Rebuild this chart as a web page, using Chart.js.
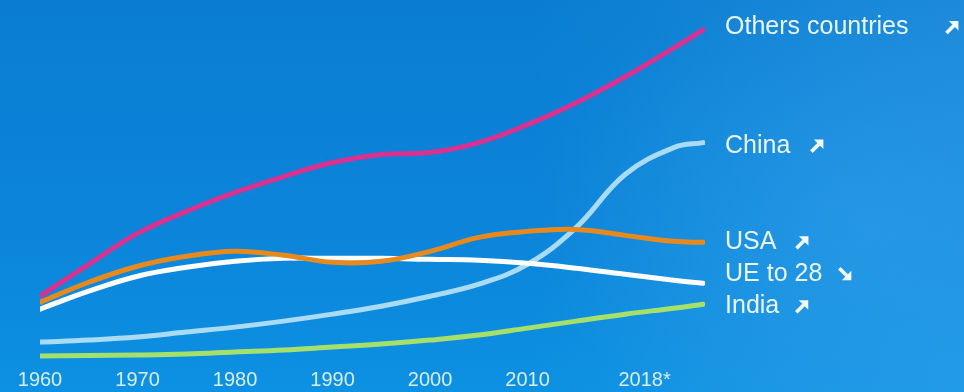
<!DOCTYPE html>
<html>
<head>
<meta charset="utf-8">
<script src="https://cdn.jsdelivr.net/npm/chart.js@4/dist/chart.umd.min.js"></script>
<style>
  html, body { margin: 0; padding: 0; }
  body {
    width: 964px; height: 392px; overflow: hidden;
    background:
      radial-gradient(ellipse 320px 260px at 860px 230px, rgba(60,170,240,0.35), rgba(60,170,240,0) 100%),
      linear-gradient(to right, rgba(255,255,255,0) 0%, rgba(255,255,255,0) 55%, rgba(90,180,240,0.22) 100%),
      linear-gradient(to bottom, #0a7dd2 0%, #0b85da 60%, #0d91e2 100%);
  }
  #wrap { position: relative; width: 964px; height: 392px; }
</style>
</head>
<body>
<div id="wrap"><canvas id="c" width="964" height="392"></canvas></div>
<script>
// Sample years along the horizontal axis
const years = [1960, 1965, 1970, 1975, 1980, 1985, 1990, 1995, 2000, 2005, 2010, 2015, 2020, 2025, 2028];

// Axis tick positions and their labels
const tickValues = [1960, 1970, 1980, 1990, 2000, 2010, 2022];
const tickLabels = ['1960', '1970', '1980', '1990', '2000', '2010', '2018*'];

// Series values
const othersCountries = [7.1, 10.3, 13.4, 15.6, 17.5, 19.1, 20.5, 21.3, 21.5, 22.5, 24.3, 26.5, 29.1, 32.0, 33.8];
const usa             = [6.5, 8.5, 10.1, 11.1, 11.6, 11.2, 10.5, 10.6, 11.6, 13.0, 13.6, 13.8, 13.2, 12.6, 12.5];
const ue28            = [5.8, 7.6, 9.1, 10.0, 10.6, 10.9, 10.9, 10.9, 10.8, 10.7, 10.4, 9.9, 9.3, 8.7, 8.4];
const china           = [2.5, 2.7, 3.0, 3.5, 4.0, 4.6, 5.3, 6.1, 7.1, 8.3, 10.3, 14.0, 19.3, 22.0, 22.5];
const india           = [1.1, 1.15, 1.2, 1.3, 1.5, 1.7, 2.0, 2.3, 2.7, 3.2, 3.9, 4.6, 5.3, 5.9, 6.3];

// Series names and trend direction shown at the end of each line (1 = up, -1 = down)
const seriesNames  = ['Others countries', 'USA', 'UE to 28', 'China', 'India'];
const seriesTrends = [1, 1, -1, 1, 1];
const seriesColors = ['#d8318f', '#e8891e', '#ffffff', '#a9dcf4', '#a5e06a'];
const seriesValues = [othersCountries, usa, ue28, china, india];

// End-of-line label styling
const labelStyle = {
  dy:       [-3, 0, -9, 3, 2],
  arrowGap: [37, 19, 16, 20, 16]
};

const pts = v => v.map((y, i) => ({ x: years[i], y }));

// Bold diagonal trend arrow, x = left edge, y = vertical centre
function trendArrow(ctx, x, y, dir) {
  const s = dir;                 // flips the arrow vertically for a downward trend
  ctx.save();
  ctx.fillStyle = '#f2faf7';
  ctx.strokeStyle = '#f2faf7';
  ctx.lineWidth = 3.6;
  ctx.lineCap = 'butt';
  ctx.beginPath();
  ctx.moveTo(x + 1, y + 6 * s);
  ctx.lineTo(x + 9, y - 2 * s);
  ctx.stroke();
  ctx.beginPath();
  ctx.moveTo(x + 13, y - 6 * s);
  ctx.lineTo(x + 3.5, y - 6 * s);
  ctx.lineTo(x + 13, y + 3.5 * s);
  ctx.closePath();
  ctx.fill();
  ctx.restore();
}

const endLabels = {
  id: 'endLabels',
  afterDatasetsDraw(chart) {
    const ctx = chart.ctx;
    ctx.save();
    chart.data.datasets.forEach((ds, i) => {
      const meta = chart.getDatasetMeta(i);
      const last = meta.data[meta.data.length - 1];
      const x = last.x + 22;
      const y = last.y + labelStyle.dy[i];
      ctx.font = '25px "Liberation Sans", Arial, sans-serif';
      ctx.fillStyle = '#e9f5f3';
      ctx.textBaseline = 'middle';
      ctx.textAlign = 'left';
      ctx.fillText(ds.label, x, y);
      const w = ctx.measureText(ds.label).width;
      trendArrow(ctx, x + w + labelStyle.arrowGap[i], y, seriesTrends[i]);
    });
    ctx.restore();
  }
};

new Chart(document.getElementById('c'), {
  type: 'line',
  data: {
    datasets: seriesValues.map((v, i) => ({
      label: seriesNames[i],
      data: pts(v),
      borderColor: seriesColors[i],
      borderWidth: 5,
      borderCapStyle: 'round',
      pointRadius: 0,
      tension: 0.4,
      fill: false
    }))
  },
  options: {
    responsive: false,
    animation: false,
    layout: { padding: { left: 40, right: 259, top: 0, bottom: 0 } },
    plugins: { legend: { display: false }, tooltip: { enabled: false } },
    scales: {
      x: {
        type: 'linear',
        min: 1960,
        max: 2028.2,
        grid: { display: false, drawTicks: false },
        border: { display: false },
        afterBuildTicks: axis => { axis.ticks = tickValues.map(v => ({ value: v })); },
        ticks: {
          autoSkip: false,
          maxRotation: 0,
          padding: 1,
          color: '#d6ede8',
          font: { family: '"Liberation Sans", Arial, sans-serif', size: 20, lineHeight: 1.05 },
          callback: v => tickLabels[tickValues.indexOf(v)]
        }
      },
      y: {
        display: false,
        min: -0.2,
        max: 36.8
      }
    }
  },
  plugins: [endLabels]
});
</script>
</body>
</html>
